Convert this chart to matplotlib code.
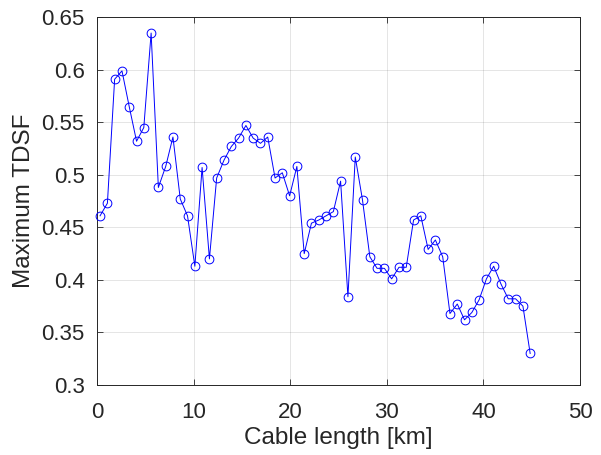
import matplotlib
matplotlib.use("Agg")
import matplotlib.pyplot as plt

cable_km = [0.28, 1.04, 1.79, 2.55, 3.30, 4.06, 4.81, 5.57, 6.32, 7.08,
            7.83, 8.59, 9.34, 10.10, 10.85, 11.61, 12.36, 13.12, 13.88, 14.63,
            15.39, 16.14, 16.90, 17.65, 18.41, 19.16, 19.92, 20.67, 21.43, 22.18,
            22.94, 23.69, 24.45, 25.20, 25.96, 26.72, 27.47, 28.23, 28.98, 29.74,
            30.49, 31.25, 32.00, 32.76, 33.51, 34.27, 35.02, 35.78, 36.53, 37.29,
            38.04, 38.80, 39.55, 40.31, 41.06, 41.82, 42.57, 43.33, 44.09, 44.84]
max_tdsf = [0.461, 0.473, 0.591, 0.599, 0.565, 0.532, 0.545, 0.635, 0.488, 0.508,
            0.536, 0.477, 0.461, 0.413, 0.507, 0.420, 0.497, 0.514, 0.527, 0.535,
            0.547, 0.535, 0.530, 0.536, 0.497, 0.502, 0.480, 0.508, 0.425, 0.454,
            0.457, 0.461, 0.465, 0.494, 0.384, 0.517, 0.476, 0.422, 0.411, 0.411,
            0.401, 0.412, 0.412, 0.457, 0.461, 0.429, 0.438, 0.422, 0.368, 0.377,
            0.362, 0.369, 0.381, 0.401, 0.413, 0.396, 0.382, 0.382, 0.375, 0.330]
x_ticks = [0, 10, 20, 30, 40, 50]
y_ticks = [0.3, 0.35, 0.4, 0.45, 0.5, 0.55, 0.6, 0.65]
y_tick_labels = ["0.3", "0.35", "0.4", "0.45", "0.5", "0.55", "0.6", "0.65"]

plt.rcParams['font.family'] = ['Liberation Sans', 'DejaVu Sans']

fig = plt.figure(figsize=(6.01, 4.55), dpi=100)
ax = fig.add_axes([0.162, 0.154, 0.803, 0.808])

ax.plot(cable_km, max_tdsf, color=(0, 0, 1), linewidth=0.7, marker='o',
        markersize=6.3, markerfacecolor='none', markeredgecolor=(0, 0, 1),
        markeredgewidth=0.7, clip_on=False, zorder=3)

ax.set_xlim(0, 50)
ax.set_ylim(0.3, 0.65)
ax.set_xticks(x_ticks)
ax.set_yticks(y_ticks)
ax.set_yticklabels(y_tick_labels)
ax.grid(True, color=(0.15, 0.15, 0.15), alpha=0.12, linewidth=0.7)
ax.set_axisbelow(True)
ax.tick_params(direction='in', top=True, right=True, length=4, width=0.6,
               colors=(0.15, 0.15, 0.15), labelsize=16)
ax.tick_params(axis='x', pad=12)
ax.tick_params(axis='y', pad=9)
for s in ax.spines.values():
    s.set_color((0.15, 0.15, 0.15))
    s.set_linewidth(0.7)
ax.set_xlabel("Cable length [km]", fontsize=17.5, color=(0.15, 0.15, 0.15), labelpad=3)
ax.set_ylabel("Maximum TDSF", fontsize=17.5, color=(0.15, 0.15, 0.15), labelpad=5)

fig.savefig("out.png", dpi=100)
